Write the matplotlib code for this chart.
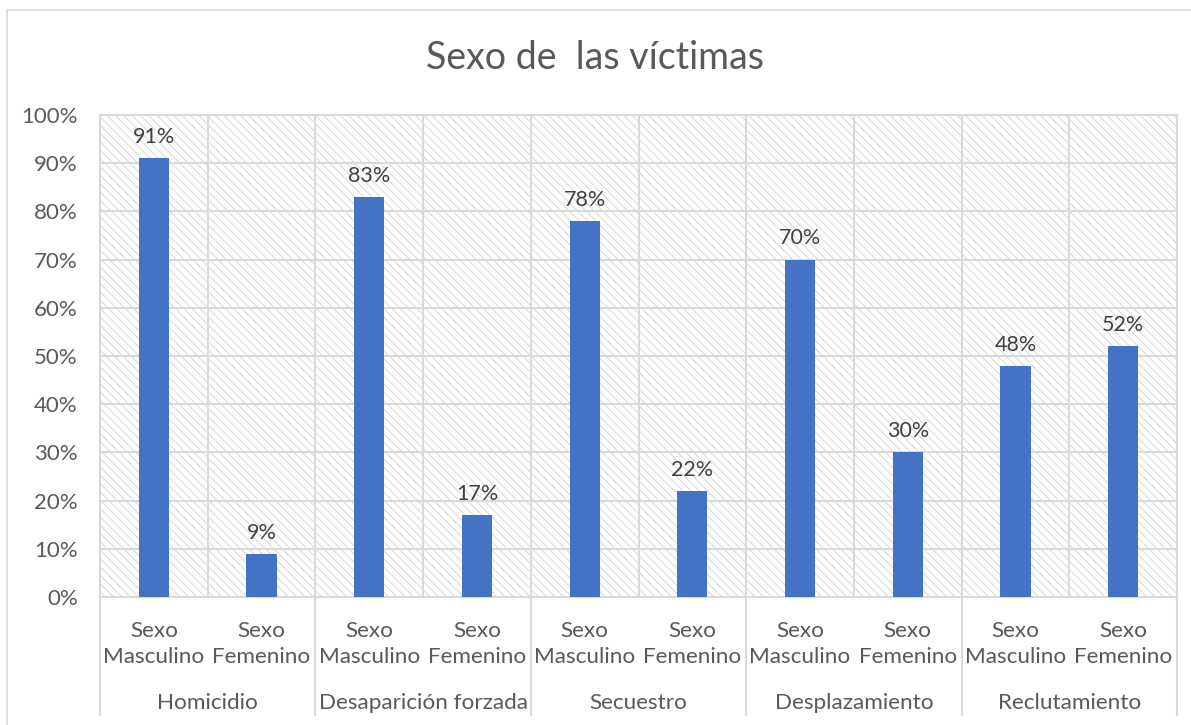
import numpy as np
import matplotlib.pyplot as plt
from matplotlib.patches import Rectangle
from matplotlib.ticker import PercentFormatter

plt.rcParams['font.family'] = ['Lato', 'DejaVu Sans']
plt.rcParams['hatch.color'] = '#d2d2d2'
plt.rcParams['hatch.linewidth'] = 0.6

grupos = ['Homicidio', 'Desaparición forzada', 'Secuestro', 'Desplazamiento', 'Reclutamiento']
sexos = ['Sexo\nMasculino', 'Sexo\nFemenino']
masculino = [91, 83, 78, 70, 48]
femenino = [9, 17, 22, 30, 52]

valores = []
for m, f in zip(masculino, femenino):
    valores += [m, f]
etiquetas = sexos * len(grupos)

gris_txt = '#595959'
gris_linea = '#d9d9d9'
azul = '#4472C4'

fig = plt.figure(figsize=(11.91, 7.25), dpi=100)
ax = fig.add_axes([100 / 1191, 1 - 597 / 725, 1077 / 1191, 482 / 725])

# marco del grafico
fig.patches.append(Rectangle((7 / 1191, -0.1), 1.2, 1 - 10 / 725 + 0.1, transform=fig.transFigure,
                             fill=False, edgecolor=gris_linea, linewidth=1.2))

# fondo rayado
ax.add_patch(Rectangle((0, 0), 1, 1, transform=ax.transAxes, facecolor='white',
                       hatch='\\\\\\\\', edgecolor='#d2d2d2', linewidth=0, zorder=0))

x = np.arange(len(valores))
ax.bar(x, valores, width=0.28, color=azul, zorder=3)
for xi, v in zip(x, valores):
    ax.annotate(f'{v}%', (xi, v), xytext=(0, 8), textcoords='offset points',
                ha='center', va='bottom', fontsize=15.5, color='#404040', zorder=4)

ax.set_xlim(-0.5, len(valores) - 0.5)
ax.set_ylim(0, 100)
ax.set_yticks(np.arange(0, 101, 10))
ax.yaxis.set_major_formatter(PercentFormatter(decimals=0))
ax.tick_params(axis='y', length=0, pad=16, labelsize=16, labelcolor=gris_txt)
ax.set_xticks([])

# rejilla
for yv in np.arange(10, 101, 10):
    ax.axhline(yv, color=gris_linea, linewidth=1.5, zorder=1)
for xv in np.arange(0.5, len(valores) - 0.5, 1):
    ax.axvline(xv, color=gris_linea, linewidth=1.5, zorder=1)
for s in ax.spines.values():
    s.set_color(gris_linea)
    s.set_linewidth(1.5)

# etiquetas de categoria en dos niveles
tr = ax.get_xaxis_transform()
for xi, lab in zip(x, etiquetas):
    ax.text(xi, -0.098, lab, transform=tr, ha='center', va='center',
            fontsize=16.2, color=gris_txt, linespacing=1.35)
for i, g in enumerate(grupos):
    ax.text(2 * i + 0.5, -0.22, g, transform=tr, ha='center', va='center',
            fontsize=16.2, color=gris_txt)
for xv in np.arange(-0.5, len(valores), 2):
    ax.plot([xv, xv], [0, -0.245], transform=tr, color=gris_linea, linewidth=1.5,
            clip_on=False)

fig.text(0.5, 1 - 58 / 725, 'Sexo de  las víctimas', ha='center', va='center',
         fontsize=27, color=gris_txt)

fig.savefig('out.png', dpi=100)
